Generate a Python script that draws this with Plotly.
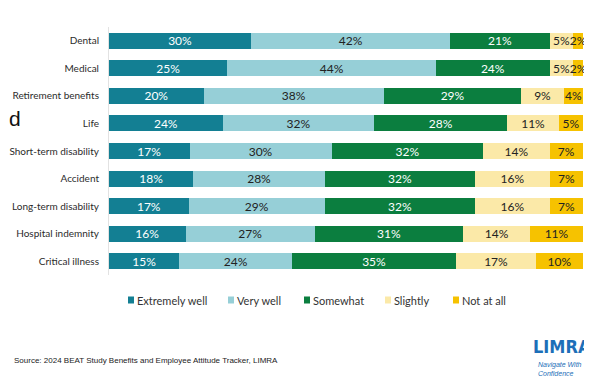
import plotly.graph_objects as go

categories = ["Dental", "Medical", "Retirement benefits", "Life", "Short-term disability",
              "Accident", "Long-term disability", "Hospital indemnity", "Critical illness"]
extremely_well = [30, 25, 20, 24, 17, 18, 17, 16, 15]
very_well = [42, 44, 38, 32, 30, 28, 29, 27, 24]
somewhat = [21, 24, 29, 28, 32, 32, 32, 31, 35]
slightly = [5, 5, 9, 11, 14, 16, 16, 14, 17]
not_at_all = [2, 2, 4, 5, 7, 7, 7, 11, 10]
series_names = ["Extremely well", "Very well", "Somewhat", "Slightly", "Not at all"]
series_values = [extremely_well, very_well, somewhat, slightly, not_at_all]

colors = ["#137f93", "#96cfd7", "#0b7e3f", "#fbe9a8", "#f6c200"]
text_colors = ["white", "#222222", "white", "#222222", "#222222"]

FONT = "Lato, 'Liberation Sans', Arial, sans-serif"

# The page body has an 8px margin, so the figure is drawn 8px in from the window corner.
OFF = 8
W, H = 592 - OFF, 382 - OFF
L, R, T, B = 109 - OFF, 9, 27 - OFF, 107
PW, PH = W - L - R, H - T - B


def px_x(px):  # window pixel -> paper x
    return (px - OFF - L) / PW


def px_y(py):  # window pixel -> paper y
    return (H - B - (py - OFF)) / PH


fig = go.Figure()
for name, vals, color, tcolor in zip(series_names, series_values, colors, text_colors):
    fig.add_trace(go.Bar(
        y=categories, x=vals, name=name, orientation="h",
        marker=dict(color=color, line=dict(width=0)),
        text=[f"{v}%" for v in vals], textposition="inside",
        insidetextanchor="middle", textangle=0,
        textfont=dict(color=tcolor, size=12, family=FONT),
        cliponaxis=False, showlegend=False,
    ))

fig.update_layout(
    barmode="stack", barnorm="percent", bargap=0.42,
    width=W, height=H,
    margin=dict(l=L, r=R, t=T, b=B, autoexpand=False),
    paper_bgcolor="white", plot_bgcolor="white",
    font=dict(family=FONT, size=11, color="#333333"),
    uniformtext=dict(minsize=12, mode="show"),
    showlegend=False,
    xaxis=dict(range=[0, 100.02], showgrid=False, showticklabels=False, zeroline=False,
               fixedrange=True, automargin=False),
    yaxis=dict(autorange="reversed", showgrid=False, showline=True, linecolor="#e2e2e2",
               linewidth=1, ticks="outside", ticklen=7, tickcolor="rgba(0,0,0,0)",
               automargin=False,
               tickfont=dict(size=10, color="#2b2b2b", family=FONT)),
)

# legend (square + label per series)
legend_px = [128, 228, 304, 385, 453]
for name, color, lx in zip(series_names, colors, legend_px):
    fig.add_shape(type="rect", xref="paper", yref="paper",
                  x0=px_x(lx), x1=px_x(lx + 6), y0=px_y(303.5), y1=px_y(296.5),
                  fillcolor=color, line=dict(width=0))
    fig.add_annotation(text=name, xref="paper", yref="paper", x=px_x(lx + 7), y=px_y(300),
                       xanchor="left", yanchor="middle", showarrow=False,
                       font=dict(family=FONT, size=11, color="#333333"))

fig.add_annotation(text="Source: 2024 BEAT Study Benefits and Employee Attitude Tracker, LIMRA",
                   xref="paper", yref="paper", x=px_x(12), y=px_y(360), xanchor="left",
                   yanchor="middle", showarrow=False,
                   font=dict(family="Arial, Liberation Sans", size=8, color="#222222"))
fig.add_annotation(text="d", xref="paper", yref="paper", x=px_x(7), y=px_y(118),
                   xanchor="left", yanchor="middle", showarrow=False,
                   font=dict(family="Arial, Liberation Sans", size=21, color="#111111"))
fig.add_annotation(text="<b>LIMRA</b>", xref="paper", yref="paper", x=1.0, y=px_y(346),
                   xanchor="right", yanchor="middle", showarrow=False, xshift=10,
                   font=dict(family="'DejaVu Sans Condensed', 'Liberation Sans Narrow', Arial",
                             size=18, color="#1d6fb8"))
fig.add_annotation(text="<i>Navigate With<br>Confidence</i>", xref="paper", yref="paper",
                   x=px_x(536), y=px_y(368.5), xanchor="left", yanchor="middle", align="left",
                   showarrow=False,
                   font=dict(family="Arial, Liberation Sans", size=7, color="#1d6fb8"))

fig.write_html("out.html")
